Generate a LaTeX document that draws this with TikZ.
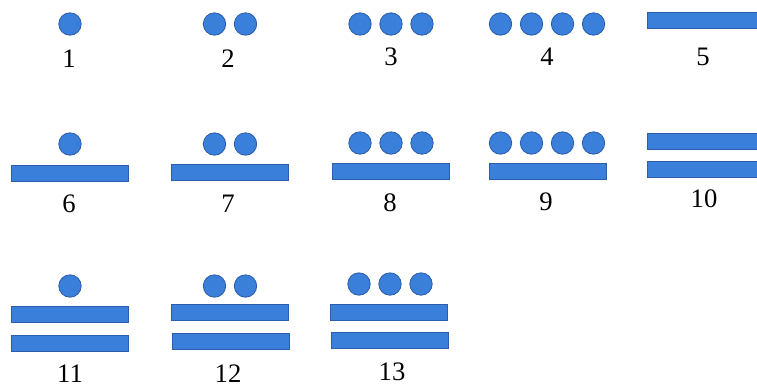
\documentclass[tikz,border=0pt]{standalone}
\usepackage{fontspec}
\setmainfont{Liberation Serif}
\definecolor{mayablue}{RGB}{58,128,218}
\definecolor{mayaedge}{RGB}{44,92,170}
\tikzset{every picture/.style={line width=0.75pt}}
\tikzset{
  mayadot/.style={circle,draw=mayaedge,fill=mayablue,line width=0.6pt,minimum size=16.8pt,inner sep=0pt},
  mayabar/.style={rectangle,draw=mayaedge,fill=mayablue,line width=0.4pt,minimum width=88pt,minimum height=12pt,inner sep=0pt},
  numlabel/.style={inner sep=0.75pt,font=\fontsize{20}{24}\selectfont}
}
\begin{document}
\begin{tikzpicture}[x=0.75pt,y=0.75pt,yscale=-1,xscale=1]
\useasboundingbox (0,0) rectangle (757,387);
\clip (0,0) rectangle (757,387);

% Top row: 1 to 5
\node[mayadot] (n1d1) at (70,24) {};
\foreach \i in {1,2} \node[mayadot] (n2d\i) at ({230+31*(\i-1.5)},24) {};
\foreach \i in {1,2,3} \node[mayadot] (n3d\i) at ({391+31*(\i-2)},24) {};
\foreach \i in {1,...,4} \node[mayadot] (n4d\i) at ({547+31*(\i-2.5)},24) {};
\node[mayabar] (n5b1) at (706,20.5) {};

% Middle row: 6 to 10
\node[mayadot] (n6d1) at (70,144) {};
\foreach \i in {1,2} \node[mayadot] (n7d\i) at ({230+31*(\i-1.5)},144) {};
\foreach \i in {1,2,3} \node[mayadot] (n8d\i) at ({391+31*(\i-2)},143) {};
\foreach \i in {1,...,4} \node[mayadot] (n9d\i) at ({547+31*(\i-2.5)},143) {};
\node[mayabar] (n6b1) at (70,173) {};
\node[mayabar] (n7b1) at (230,172.5) {};
\node[mayabar] (n8b1) at (390.5,171.5) {};
\node[mayabar] (n9b1) at (547.5,171) {};
\node[mayabar] (n10b1) at (706,141.5) {};
\node[mayabar] (n10b2) at (706,169.5) {};

% Bottom row: 11 to 13
\node[mayadot] (n11d1) at (70,286) {};
\foreach \i in {1,2} \node[mayadot] (n12d\i) at ({230+31*(\i-1.5)},286) {};
\foreach \i in {1,2,3} \node[mayadot] (n13d\i) at ({390+31*(\i-2)},284) {};
\node[mayabar] (n11b1) at (70,314) {};
\node[mayabar] (n11b2) at (70,343) {};
\node[mayabar] (n12b1) at (230,312.5) {};
\node[mayabar] (n12b2) at (230.5,341.5) {};
\node[mayabar] (n13b1) at (389,312.5) {};
\node[mayabar] (n13b2) at (389.5,340.5) {};

% Text Node
\node[numlabel] (l1) at (69,59) {1};
\node[numlabel] (l2) at (228,59) {2};
\node[numlabel] (l3) at (391,57) {3};
\node[numlabel] (l4) at (547,57) {4};
\node[numlabel] (l5) at (703,57) {5};
\node[numlabel] (l6) at (69,204) {6};
\node[numlabel] (l7) at (228,204) {7};
\node[numlabel] (l8) at (390,203) {8};
\node[numlabel] (l9) at (546,202) {9};
\node[numlabel] (l10) at (704,199) {10};
\node[numlabel] (l11) at (70,374) {11};
\node[numlabel] (l12) at (228,374) {12};
\node[numlabel] (l13) at (392,372) {13};

\end{tikzpicture}
\end{document}
